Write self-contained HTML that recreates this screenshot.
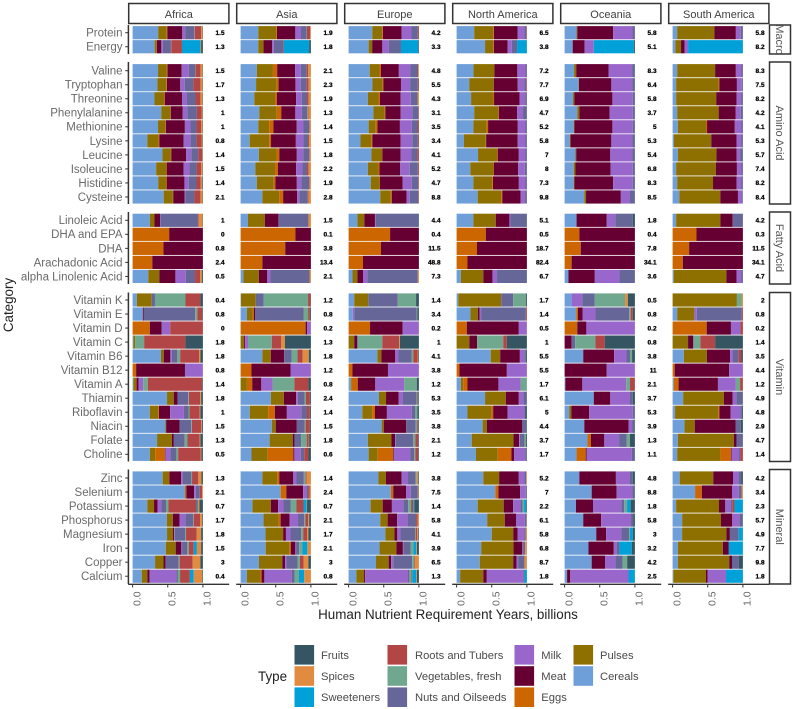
<!DOCTYPE html>
<html lang="en">
<head>
<meta charset="utf-8">
<title>Human Nutrient Requirement Years by Food Type</title>
<style>
html,body{margin:0;padding:0;background:#fff;width:793px;height:709px;overflow:hidden}
svg{display:block;font-family:"Liberation Sans",Arial,sans-serif;filter:blur(0.35px)}
</style>
</head>
<body>
<svg id="chart" xmlns="http://www.w3.org/2000/svg" width="793" height="709" viewBox="0 0 793 709">
<defs>
<clipPath id="macro-clip"><rect x="769" y="25" width="22" height="29"/></clipPath>
</defs>
<text transform="translate(13,305) rotate(-90)" text-anchor="middle" font-size="13.4" fill="#222">Category</text>
<text x="448" y="619" text-anchor="middle" font-size="13.4" fill="#222">Human Nutrient Requirement Years, billions</text>
<text x="258" y="681" font-size="13.4" fill="#222">Type</text>
<g id="layer"></g>
</svg>
<script>
const regions = ["Africa","Asia","Europe","North America","Oceania","South America"];
const groups = ["Macro","Amino Acid","Fatty Acid","Vitamin","Mineral"];
const groupCategories = [
 ["Protein","Energy"],
 ["Valine","Tryptophan","Threonine","Phenylalanine","Methionine","Lysine","Leucine","Isoleucine","Histidine","Cysteine"],
 ["Linoleic Acid","DHA and EPA","DHA","Arachadonic Acid","alpha Linolenic Acid"],
 ["Vitamin K","Vitamin E","Vitamin D","Vitamin C","Vitamin B6","Vitamin B12","Vitamin A","Thiamin","Riboflavin","Niacin","Folate","Choline"],
 ["Zinc","Selenium","Potassium","Phosphorus","Magnesium","Iron","Copper","Calcium"]
];
const types = ["Cereals","Pulses","Eggs","Meat","Milk","Nuts and Oilseeds","Vegetables, fresh","Roots and Tubers","Sweeteners","Spices","Fruits"];
const xTicks = [0,0.5,1];
const xTickLabels = ["0.0","0.5","1.0"];

// Shares per category, columns in the order of `types`
const africa = [
[36,12,1,21,4,13,.5,9,0,2,.5],
[31,2.5,.5,6.5,2,11.5,.5,15,26,1,2.5],
[36,12.5,1,20,10,9,.5,7,0,3,.5],
[35,12.5,1,19,6.5,12,0,10,0,3,.5],
[31,13.5,1,24.5,7,12,0,7,0,3,.5],
[40.5,13,.5,17,6.5,13.5,0,6.5,0,1.5,.5],
[36,10,1,27,8,8.5,0,6.5,0,2,.5],
[21,16,1,34.5,10,8.5,0,7,0,1.5,.5],
[42.5,12,.5,21,7.5,10,0,5.5,0,.5,.5],
[33.5,14,1,24,8.5,10,0,6.5,0,2,.5],
[36,11,1,25,6,11,0,6,0,2,1],
[44,13,.5,16,1,13,0,8.5,0,3,.5],
[24.5,6.5,0,8,.5,53,0,1,0,5.5,.5],
[0,0,52,48,0,0,0,0,0,0,0],
[0,0,44,56,0,0,0,0,0,0,0],
[0,0,28,72,0,0,0,0,0,0,0],
[22,15.5,0,22.5,14.5,13,0,7,0,2.5,1.5],
[6,21,0,0,0,4.5,43,21,0,0,3.5],
[14.5,0,0,1.5,0,73,3,7,0,0,1],
[0,0,24.5,17,12,0,0,46.5,0,0,0],
[1,2.5,0,0,0,0,13,59,0,0,25],
[40.5,4,0,9.5,2,8,4,27,0,2,3.5],
[0,0,5,69.5,25.5,0,0,0,0,0,0],
[1,4,.5,3,6.5,0,6.5,77,0,0,1],
[49,9.5,0,5.5,0,15,1,16,0,1.5,2.5],
[24.5,12,1,16,19.5,6.5,1.5,14.5,0,1,3.5],
[46.5,1,0,19,0,16.5,1,13,0,1,1.5],
[35,21,0,3,0,15.5,4,17.5,0,1,3.5],
[24.5,7.5,14,.5,7,8.5,2.5,32,0,1,2],
[43,9,.5,17,2,12,1.5,9,0,4.5,2],
[74.5,0,2,11,2.5,5.5,0,3.5,0,1,0],
[21,9.5,0,5,5.5,6.5,3.5,40.5,1.5,2,5],
[48.5,8.5,0,9.5,8,11,1,9,0,3,1],
[49,8.5,0,1.5,1,15,1,15,0,6.5,2.5],
[47,14,0,8,1,7.5,2,7,4.5,6,2.5],
[32,12,0,3,0,18.5,1.5,18.5,0,11,3.5],
[13,8,0,3,38,2.5,3,14,5.5,12,1]
];
const asia = [
[25,25.5,1,26,8,8,.5,4.5,0,1,0],
[25,7.5,0,12,2.5,13,0,1,36,0,2.5],
[23,23,6,25.5,8,8.5,0,2,0,4,0],
[22,29.5,2.5,24,7.5,8.5,0,2.5,0,3.5,0],
[19.5,29.5,2.5,27.5,8,7.5,0,2,0,3.5,0],
[26.5,24.5,6.5,20,9,7.5,1,1,0,3.5,0],
[25,15.5,6,33,9.5,8,0,1,0,1.5,0],
[13,28,2.5,35.5,11,6.5,0,1.5,0,2.5,0],
[26,25,4,25,9,8.5,0,1,0,1.5,0],
[21,28,4,26,9,6.5,0,2,0,3.5,0],
[23,24,2.5,30.5,6.5,11,0,1,0,1.5,0],
[31,24,5.5,20,3,12,0,1,0,3.5,0],
[10.5,24,0,19.5,.5,42,0,0,0,3.5,0],
[0,0,78,22,0,0,0,0,0,0,0],
[0,0,63.5,36.5,0,0,0,0,0,0,0],
[0,0,31,69,0,0,0,0,0,0,0],
[4,22,0,12,4.5,55.5,0,0,0,2,0],
[.5,21,0,0,0,11,63,3.5,0,0,.5],
[9,8,2,1.5,0,69,6.5,2.5,0,0,1.5],
[0,0,92.5,2,5.5,0,0,0,0,0,0],
[0,5,0,1.5,4,0,34,13,0,5.5,37],
[31,12,0,19,0,10.5,8.5,7,0,9,3],
[0,0,15.5,55.5,29,0,0,0,0,0,0],
[0,9,7.5,13,16,0,31,20,0,0,3.5],
[43,18.5,0,17.5,2.5,9.5,2,5.5,0,0,1.5],
[13,26,9.5,17,20.5,8,0,4,0,0,1.5],
[44.5,5.5,0,30,0,11,1.5,6,0,0,1.5],
[41.5,33,0,2.5,0,9.5,8,3,0,.5,2.5],
[15.5,23,36.5,1.5,9,5,0,6,0,0,3.5],
[31,21,3,20,4.5,10.5,2.5,1.5,0,6,0],
[57,0,8,24,4.5,2.5,0,2,0,2,0],
[17,26,0,10.5,7.5,10.5,8,10,4.5,.5,5.5],
[33,22,2.5,13,12,9,1.5,4,0,1.5,2.5],
[35.5,25,0,4,6.5,15,3,5.5,0,2,3.5],
[35.5,33.5,2,6.5,1,4.5,4.5,0,7,5,0],
[26,33,0,4,2,15.5,3.5,5,0,7,3.5],
[9,19.5,1.5,4,39,4,6.5,0,7.5,9.5,0]
];
const europe = [
[33.5,14,1,26.5,14,9,0,1.5,0,0,0],
[28.5,5,0,14.5,9,17.5,0,0,24.5,0,1],
[30,14,2,25.5,16.5,10,0,1,0,1,0],
[34,14.5,1,25,13,11,0,1.5,0,0,0],
[27.5,15,2,29.5,14.5,9.5,0,0,0,2,0],
[35.5,16,1,22,16.5,8.5,0,1,0,0,0],
[28.5,10,2.5,32,17,8,0,2,0,0,0],
[17,15.5,1.5,40.5,16.5,8,0,1.5,0,0,0],
[32.5,15,.5,26,15.5,8,0,2.5,0,0,0],
[27.5,15,1.5,29.5,13.5,11.5,0,1.5,0,0,0],
[31.5,12.5,.5,32.5,13,9,0,1,0,0,0],
[45,15,1.5,21,4.5,12,0,1,0,0,0],
[12.5,10,0,15,1,60.5,0,0,0,0,1],
[0,0,59,41,0,0,0,0,0,0,0],
[0,0,46,54,0,0,0,0,0,0,0],
[0,0,20.5,79.5,0,0,0,0,0,0,0],
[5.5,7,0,8,6,72,0,0,0,1.5,0],
[8,20,0,0,0,42,26,0,0,0,4],
[6,0,0,0,2,89,1,0,0,0,2],
[0,0,30.5,46.5,23,0,0,0,0,0,0],
[0,8,0,4.5,0,0,35.5,24,0,1,27],
[41,5.5,0,19.5,5,18.5,2.5,6,0,1,1],
[0,0,5.5,50.5,44,0,0,0,0,0,0],
[3,1.5,8.5,25,41,0,18,0,0,0,3],
[43,10,0,18,6,19,1.5,1,0,0,1],
[19.5,14,4,17,35.5,5,3,0,0,0,2],
[47,3,0,32,0,13.5,2,1.5,0,0,1],
[27.5,33.5,0,5,1,25,3,4,0,0,1],
[28.5,13,22,1,23,6,1.5,4,0,0,1],
[42.5,10.5,0,22.5,9,11,1.5,0,0,2,1],
[60,0,3.5,18.5,6.5,10,0,0,0,1,.5],
[31,17,0,13,16,7,4,3,1.5,0,6.5],
[45,10.5,0,13.5,15.5,11.5,0,2,0,2,0],
[52,13,0,4,4.5,20.5,1,2,0,1.5,1],
[44.5,24,0,9.5,.5,10.5,4,0,4,1,3],
[39,18,0,3.5,3,27,3,1,0,5.5,0],
[11,11,0,1.5,61,2,3,1,5.5,1,3]
];
const northAmerica = [
[25,27,1,34,9.5,2.5,0,1,0,0,0],
[40.5,11.5,1,19.5,6,7.5,0,0,14,0,0],
[24,29.5,0,32.5,11.5,2,0,0,0,0,0],
[18,35,0,34,9.5,2.5,0,1,0,0,0],
[20.5,31,1.5,36,8,2.5,0,0,0,0,0],
[25,34,1,26,8.5,5.5,0,0,0,0,0],
[24,19,2,42.5,11,2,0,0,0,0,0],
[10.5,31,.5,45,11,2,0,0,0,0,0],
[30.5,27,1,30,9.5,2,0,0,0,0,0],
[19.5,33,.5,34.5,9.5,3,0,0,0,0,0],
[24,27,1,37,9.5,2,0,0,0,0,0],
[30,33.5,1.5,26,7,2,0,0,0,0,0],
[24,32,0,19.5,1.5,23.5,0,0,0,0,0],
[0,0,41.5,58.5,0,0,0,0,0,0,0],
[0,0,29,71,0,0,0,0,0,0,0],
[0,0,15.5,84.5,0,0,0,0,0,0,0],
[6,32,0,13,6.5,42.5,0,0,0,0,0],
[2.4,61,0,0,0,17,18,0,0,0,1.5],
[19.5,10.5,0,2.5,2,63,0,1.5,0,0,0],
[0,0,14.5,74,11.5,0,0,0,0,0,0],
[0,18,0,11,0,0,37,5,0,0,28.5],
[48.5,13.5,0,28,7.5,0,.5,0,0,0,2],
[0,0,4,67.5,28.5,0,0,0,0,0,0],
[6,3.5,6,44,31.5,0,9,0,0,0,0],
[40.5,29.5,0,18.5,6.5,5,0,0,0,0,0],
[15.5,34,2.5,20.5,24,1.5,0,0,0,0,2],
[37,6,0,50.5,0,5.5,0,0,0,0,1],
[21.5,59.5,0,8,1,6.5,2,0,0,0,1.5],
[27.5,31,19.5,4,15.5,2.5,0,0,0,0,0],
[38,22.5,0,28,8,2.5,0,0,0,1,0],
[55,0,4.5,31,8,1.5,0,0,0,0,0],
[30,37,0,13.5,10.5,3,2,0,3,0,1],
[43.5,25,0,16,12.5,2.5,0,0,0,.5,0],
[50,30.5,0,6.5,9.5,1.5,0,0,0,2,0],
[35,46,0,12.5,1,3,0,0,0,2.5,0],
[33,47.5,0,5,2,9,0,0,0,3.5,0],
[5,33,0,5,52,1.5,0,0,3.5,0,0]
];
const oceania = [
[17,1,0,51,27.5,3.5,0,0,0,0,0],
[11.5,0,0,17,13,0,0,0,57,0,1.5],
[13.5,3,0,46,33.5,4,0,0,0,0,0],
[20,.5,0,46,30,3.5,0,0,0,0,0],
[12,2,0,54,29,3,0,0,0,0,0],
[18,3,0,43,33,3,0,0,0,0,0],
[13,1,0,54,29,3,0,0,0,0,0],
[7.5,1,0,58,30,3.5,0,0,0,0,0],
[15.5,1,0,48.5,31.5,3.5,0,0,0,0,0],
[13,2.5,0,50,31.5,3,0,0,0,0,0],
[13,1,0,55,28,3,0,0,0,0,0],
[28,2.5,0,49.5,13,7,0,0,0,0,0],
[17,0,0,43,12,25,0,0,0,0,3],
[0,0,21,79,0,0,0,0,0,0,0],
[0,0,23,77,0,0,0,0,0,0,0],
[0,0,10,90,0,0,0,0,0,0,0],
[5.5,0,0,37.5,35,22,0,0,0,0,0],
[10,0,0,0,15,17.5,43.5,0,0,4,10],
[16.5,0,2.5,6.5,18.5,48,2,3,0,0,3],
[0,0,18,13,69,0,0,0,0,0,0],
[0,0,0,10,0,5,29,13,0,0,43],
[26.5,0,0,44,17.5,5,3,0,0,0,4],
[0,0,0,60,40,0,0,0,0,0,0],
[1,0,0,24.5,63,0,5.5,7,0,0,0],
[41.5,0,0,23.5,28,4,0,0,0,0,3],
[6.5,3,0,25.5,62,3,0,0,0,0,0],
[28,0,0,63,5,3,0,0,0,0,1],
[32.5,0,5,19,21,11,4.5,0,0,0,7],
[17,0,13,1.5,64,4.5,0,0,0,0,0],
[21,0,0,52,20,4,0,0,0,0,3],
[38.5,0,0,35.5,22.5,3.5,0,0,0,0,0],
[16,0,0,24,40,4,4,0,5,0,6],
[26.5,0,0,25.5,42.5,3,0,0,0,0,2.5],
[45,0,0,14,22,11,1,0,4,0,3],
[34,0,0,36,4,4,0,0,17.5,0,4.5],
[38.5,0,0,19,15,10,6.5,0,0,0,11],
[3.5,0,0,4.5,82,0,0,0,9,0,0]
];
const southAmerica = [
[6.5,53,0,30.5,7,3,0,0,0,0,0],
[4,8,0,5,5,0,0,0,78,0,0],
[6.5,54,0,29.5,8,2,0,0,0,0,0],
[5,60.5,1,25,7,1.5,0,0,0,0,0],
[5,57,0,29,7,2,0,0,0,0,0],
[6.5,59,0,24,7.5,3,0,0,0,0,0],
[7.5,40,1.5,39.5,9.5,2,0,0,0,0,0],
[2,53,0,36,7,2,0,0,0,0,0],
[7.5,55,0,28.5,5,4,0,0,0,0,0],
[5,56.5,0,30,6.5,2,0,0,0,0,0],
[6.5,51,0,33.5,7,2,0,0,0,0,0],
[9.5,58,0,25,6,1,0,0,0,0,0],
[5,63,0,17.5,0,14.5,0,0,0,0,0],
[0,0,34,66,0,0,0,0,0,0,0],
[0,0,23.5,76.5,0,0,0,0,0,0,0],
[0,0,14.5,85.5,0,0,0,0,0,0,0],
[1.5,75,0,14.5,7,2,0,0,0,0,0],
[0,91.5,0,0,0,0,6.5,0,0,2,0],
[6.5,24.5,0,0,3.5,64,0,1.5,0,0,0],
[0,0,48.5,34.5,13.5,0,0,3.5,0,0,0],
[0,22,0,7.5,0,0,10,21,0,0,39.5],
[16,32.5,0,33,4,8,0,4,0,0,2],
[0,0,3,77.5,19.5,0,0,0,0,0,0],
[1.5,0,7,56,25.5,0,6,4,0,0,0],
[15,58,0,12.5,5,9.5,0,0,0,0,0],
[3.5,61.5,1.5,16,14,2,0,0,0,0,1.5],
[17,14.5,0,58,0,7.5,0,0,0,0,3],
[7.5,79.5,0,4,0,9,0,0,0,0,0],
[6.5,61.5,15,1,10.5,1.5,0,4,0,0,0],
[10,47.5,0,28,7.5,4.5,0,0,0,0,2],
[32,0,9.5,43,9.5,4,0,0,0,2,0],
[5,61,0,9,7.5,2.5,0,3,12,0,0],
[13.5,55,0,16,10,5,0,0,0,0,0],
[13.5,63,0,5,0,12.5,0,0,6,0,0],
[7.5,64,0,8.5,0,0,0,0,20,0,0],
[7.5,73,0,4,0,9.5,0,0,0,0,6],
[1,46.5,0,2.5,26,0,0,0,24,0,0]
];
const regionShares = [africa,asia,europe,northAmerica,oceania,southAmerica];

// Printed totals (billions), one per category
const africaTotals = ["1.5","1.3","1.5","1.7","1.3","1","1","0.8","1.4","1.5","1.4","2.1","1","0","0.8","2.4","0.5","0.4","0.8","0","1.8","1.8","0.8","1.4","1.8","1","1.5","1.3","0.5","1.3","2.1","0.7","1.7","1.8","1.5","3","0.4"];
const asiaTotals = ["1.9","1.8","2.1","2.3","1.9","1.3","1.4","1.5","1.8","2.2","1.9","2.8","1.5","0.1","3.8","13.4","2.1","1.2","0.8","0.2","1.3","1.8","1.2","0.8","2.4","1.4","1.5","1.8","0.6","1.4","2.4","0.7","2.1","1.7","2.1","3","0.8"];
const europeTotals = ["4.2","3.3","4.8","5.5","4.3","3.1","3.5","3.4","4.1","5.2","4.7","8.8","4.4","0.4","11.5","48.8","7.3","1.4","3.4","0.2","1","4.1","3.8","1.2","5.3","3.5","3.8","2.1","1.2","3.8","7.5","1.4","5.8","4.1","3.9","6.5","1.3"];
const northAmericaTotals = ["6.5","3.8","7.2","7.7","6.9","4.7","5.2","5.8","7","8","7.3","9.8","5.1","0.5","18.7","82.4","6.7","1.7","1.4","0.5","1","5.5","5.5","1.7","6.1","5","4.4","3.7","1.7","5.2","7","2.2","6.1","5.8","6.8","8.7","1.8"];
const oceaniaTotals = ["5.8","5.1","8.3","6.4","5.8","3.7","5","5.3","5.4","6.8","8.3","8.5","1.8","0.4","7.8","34.1","3.6","0.5","0.8","0.2","0.8","3.8","11","2.1","3.7","5.3","3.9","1.3","1.1","4.8","8.8","1.8","5.8","3","3.2","4.2","2.5"];
const southAmericaTotals = ["5.8","8.2","8.3","7.5","8.2","4.2","4.1","5.3","5.7","7.4","8.2","8.4","4.2","0.3","11.5","34.1","4.7","2","0.8","0.2","1.4","3.5","4.4","1.2","4.9","4.8","2.9","4.7","1.4","4.2","3.4","2.3","5.7","4.9","7.7","9.8","1.8"];
const regionTotals = [africaTotals,asiaTotals,europeTotals,northAmericaTotals,oceaniaTotals,southAmericaTotals];

// Styling and layout
const typeColors = ["#6f9fd8","#8d7000","#cc6600","#660033","#9966cc","#666699","#6fa88e","#b24545","#00a0d8","#e08b3f","#345561"];
const NS = "http://www.w3.org/2000/svg";
const layer = document.getElementById("layer");
const INK = "#333333";
const slug = s => s.toLowerCase().replace(/[^a-z0-9]+/g,"-");
function mk(tag, attrs, txt){
  const e = document.createElementNS(NS, tag);
  for(const k in attrs) e.setAttribute(k, attrs[k]);
  if(txt !== undefined) e.textContent = txt;
  layer.appendChild(e);
  return e;
}
const panelX = r => 132.6 + 108*r;
const xScale = (r, v) => panelX(r) + v*70.3;
const groupTop = [32.7, 70.7, 220.3, 300, 478];
const groupBox = [[25,54],[62,204],[212,284],[292.5,461.5],[469.5,584]];
const yScale = (g, i) => groupTop[g] + i*14.03;
const BAR_H = 13.2;

// Column strips and x axes
regions.forEach((name, r) => {
  const x0 = 128.7 + 108*r;
  const strip = mk("rect",{x:x0,y:3.5,width:100.2,height:20,fill:"#fff",stroke:INK,"stroke-width":1.5});
  
  
  const label = mk("text",{x:x0+50.1,y:18,"text-anchor":"middle","font-size":11,fill:"#404040"},name);
  
  
  const axis = mk("line",{x1:x0-0.5,x2:x0+100.5,y1:584.3,y2:584.3,stroke:INK,"stroke-width":1.4});
  
  
  xTicks.forEach((t, k) => {
    const tx = xScale(r, t);
    const tick = mk("line",{x1:tx,x2:tx,y1:584.3,y2:587.5,stroke:INK,"stroke-width":1});
    
    
    const tl = mk("text",{transform:"translate("+(tx+7.7)+",598.7) rotate(-90)","text-anchor":"middle","font-size":10.5,fill:"#6a6a6a"},xTickLabels[k]);
    
    
  });
});

// Rows
let rowIndex = 0;
groups.forEach((gName, g) => {
  const box = groupBox[g];
  const axisLine = mk("line",{x1:128.4,x2:128.4,y1:box[0],y2:box[1],stroke:INK,"stroke-width":1.5});
  
  
  const gs = mk("rect",{x:769.5,y:box[0],width:21,height:box[1]-box[0],fill:"#fff",stroke:INK,"stroke-width":1.5});
  
  
  const cy = (box[0]+box[1])/2;
  const gl = mk("text",{transform:"translate(776,"+cy+") rotate(90)","text-anchor":"middle","font-size":11,fill:"#555"},gName);
  
  
  if(g === 0){
    const wrap = mk("g",{"clip-path":"url(#macro-clip)"});
    
    
    wrap.appendChild(gl);
  }
  groupCategories[g].forEach((cat, i) => {
    const y = yScale(g, i);
    const lab = mk("text",{x:122.5,y:y+3.9,"text-anchor":"end","font-size":11.5,fill:"#6a6a6a"},cat);
    
    
    const tick = mk("line",{x1:125.2,x2:128.4,y1:y,y2:y,stroke:INK,"stroke-width":1});
    
    
    regions.forEach((rName, r) => {
      const shares = regionShares[r][rowIndex];
      const sum = shares.reduce((a,b) => a+b, 0);
      let acc = 0;
      shares.forEach((v, t) => {
        if(v <= 0) return;
        const xa = xScale(r, acc/sum);
        const xb = xScale(r, (acc+v)/sum);
        acc += v;
        const seg = mk("rect",{x:xa,y:y-BAR_H/2,width:xb-xa,height:BAR_H,fill:typeColors[t]});
        
        
      });
      const val = mk("text",{x:panelX(r)+92,y:y+2.3,"text-anchor":"end","font-size":6.5,"font-weight":"bold",fill:"#000",stroke:"#000","stroke-width":0.25},regionTotals[r][rowIndex]);
      
      
    });
    rowIndex++;
  });
});

// Legend
const legendColumns = [
  [{t:10,y:0},{t:9,y:1},{t:8,y:2}],
  [{t:7,y:0},{t:6,y:1},{t:5,y:2}],
  [{t:4,y:0},{t:3,y:1},{t:2,y:2}],
  [{t:1,y:0},{t:0,y:1}]
];
const legendKeyX = [294.5,387.5,514.5,573.5];
const legendTextX = [321,415,541.3,600];
legendColumns.forEach((col, c) => {
  col.forEach(entry => {
    const ky = 645 + entry.y*21.2;
    const key = mk("rect",{x:legendKeyX[c],y:ky,width:19.6,height:19.6,fill:typeColors[entry.t]});
    
    
    const txt = mk("text",{x:legendTextX[c],y:ky+13.8,"font-size":11.2,fill:"#4a4a4a"},types[entry.t]);
    
    
  });
});
</script>
</body>
</html>
